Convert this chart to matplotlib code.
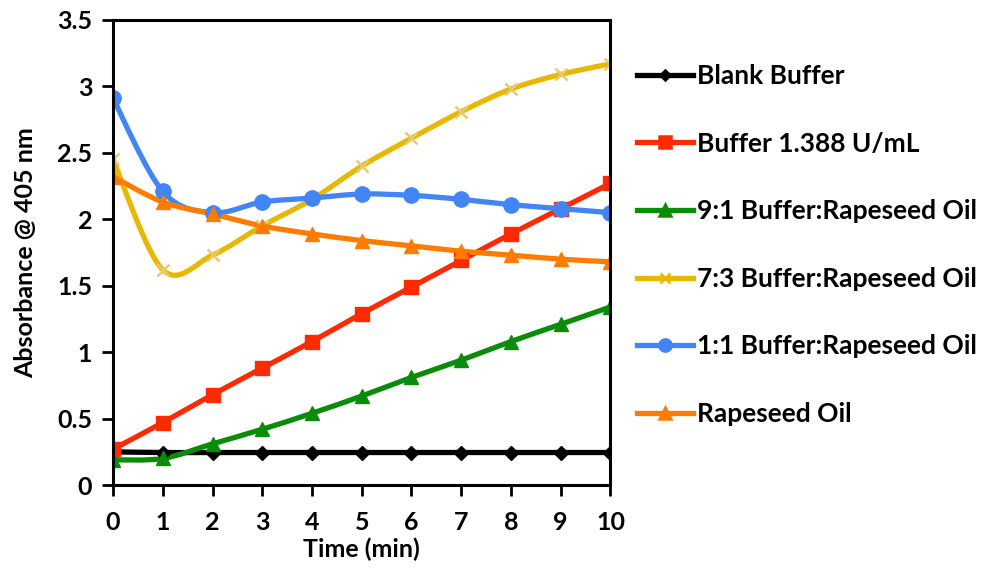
import numpy as np
import matplotlib.pyplot as plt
from matplotlib.path import Path
from matplotlib.patches import PathPatch
from matplotlib.lines import Line2D

plt.rcParams['font.family'] = ['Lato', 'DejaVu Sans']
plt.rcParams['font.weight'] = 'bold'

# data
time = [0, 1, 2, 3, 4, 5, 6, 7, 8, 9, 10]
blank_buffer = [0.25, 0.245, 0.245, 0.245, 0.245, 0.245, 0.245, 0.245, 0.245, 0.245, 0.245]
buffer_1388 = [0.27, 0.47, 0.68, 0.88, 1.08, 1.29, 1.49, 1.69, 1.89, 2.08, 2.27]
buf_9_1 = [0.19, 0.20, 0.31, 0.42, 0.54, 0.67, 0.81, 0.94, 1.08, 1.21, 1.34]
buf_7_3 = [2.45, 1.62, 1.73, 1.95, 2.15, 2.40, 2.61, 2.81, 2.98, 3.09, 3.17]
buf_1_1 = [2.91, 2.21, 2.05, 2.13, 2.16, 2.19, 2.18, 2.15, 2.11, 2.08, 2.05]
rapeseed = [2.32, 2.13, 2.04, 1.95, 1.89, 1.84, 1.80, 1.76, 1.73, 1.70, 1.68]

labels = ['Blank Buffer', 'Buffer 1.388 U/mL', '9:1 Buffer:Rapeseed Oil',
          '7:3 Buffer:Rapeseed Oil', '1:1 Buffer:Rapeseed Oil', 'Rapeseed Oil']
series = [blank_buffer, buffer_1388, buf_9_1, buf_7_3, buf_1_1, rapeseed]
colors = ['#000000', '#ff2a00', '#0a8c0a', '#e8b800', '#4285f4', '#ff7c00']
markers = ['D', 's', '^', 'x', 'o', '^']
msizes = [7, 10, 10, 9, 11, 10]
mcolors = ['#000000', '#ff2a00', '#0a8c0a', '#e6cc70', '#4285f4', '#ff7c00']


def smooth_path(xs, ys):
    # excel-style smoothed line: bezier segments through every point
    pts = np.column_stack([xs, ys]).astype(float)
    n = len(pts)
    verts = [pts[0]]
    codes = [Path.MOVETO]
    for i in range(n - 1):
        p0 = pts[i - 1] if i > 0 else pts[i]
        p3 = pts[i + 2] if i + 2 < n else pts[i + 1]
        c1 = pts[i] + (pts[i + 1] - p0) / 6.0
        c2 = pts[i + 1] - (p3 - pts[i]) / 6.0
        verts += [c1, c2, pts[i + 1]]
        codes += [Path.CURVE4] * 3
    return Path(verts, codes)


fig = plt.figure(figsize=(9.87, 5.70), dpi=100)
ax = fig.add_axes([0.1145, 0.149, 0.504, 0.816])

handles = []
for ys, c, m, ms, mc, lab in zip(series, colors, markers, msizes, mcolors, labels):
    ax.add_patch(PathPatch(smooth_path(time, ys), fill=False, edgecolor=c, lw=3.8,
                           capstyle='round', joinstyle='round'))
    if m == 'x':
        ax.plot(time, ys, linestyle='none', marker=m, ms=ms, mec=mc, mew=1.8)
    else:
        ax.plot(time, ys, linestyle='none', marker=m, ms=ms, color=mc, mec=mc)
    handles.append(Line2D([], [], color=c, lw=3.8, marker=m, ms=ms * 0.8,
                          mec=c, mfc=c, mew=1.8))

ax.set_xlim(0, 10)
ax.set_ylim(0, 3.5)
ax.set_xticks(time)
ax.set_yticks([0, 0.5, 1, 1.5, 2, 2.5, 3, 3.5])
ax.set_yticklabels(['0', '0.5', '1', '1.5', '2', '2.5', '3', '3.5'])
ax.tick_params(axis='both', direction='out', length=8, width=2, labelsize=18, pad=7)
ax.tick_params(axis='x', pad=11)
for sp in ax.spines.values():
    sp.set_linewidth(2.2)
ax.set_xlabel('Time (min)', fontsize=18, fontweight='bold', labelpad=2)
ax.set_ylabel('Absorbance @ 405 nm', fontsize=18, fontweight='bold', labelpad=14)
for t in ax.get_xticklabels() + ax.get_yticklabels():
    t.set_fontweight('bold')

fig.legend(handles, labels, loc='upper left', bbox_to_anchor=(0.635, 0.906),
           frameon=False, fontsize=19, handlelength=2.1, handletextpad=0.15,
           labelspacing=1.65, borderaxespad=0)

fig.savefig('out.png', dpi=100)
